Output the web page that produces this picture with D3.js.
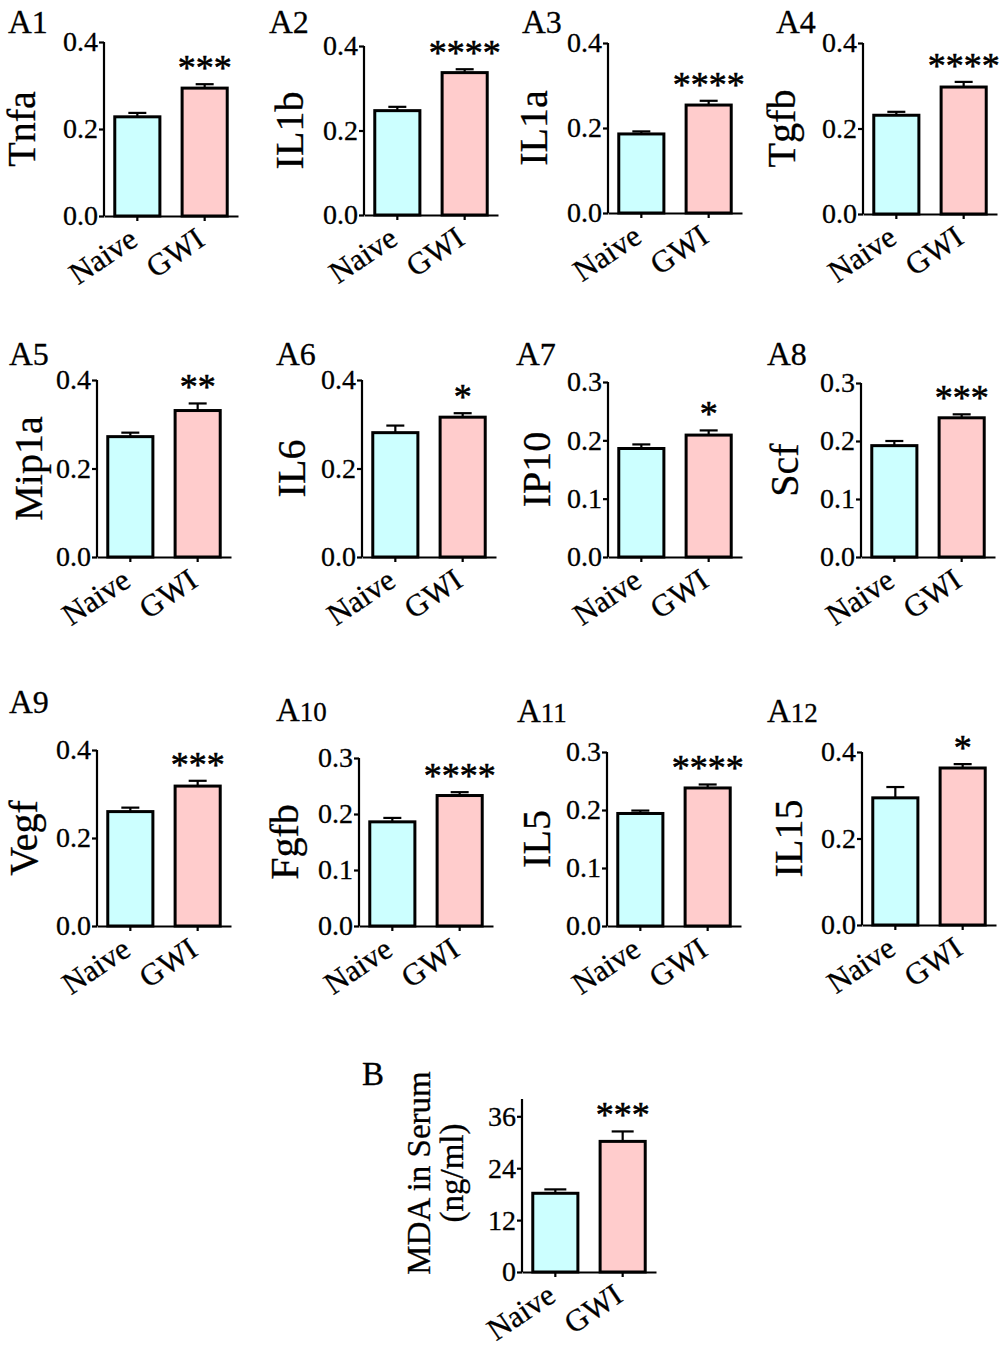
<!DOCTYPE html>
<html>
<head>
<meta charset="utf-8">
<script src="https://cdn.jsdelivr.net/npm/d3@7/dist/d3.min.js"></script>
<style>
  html, body { margin: 0; padding: 0; background: #fff; }
  svg { display: block; }
</style>
</head>
<body>
<script>
// ---------------- DATA ----------------
const categories = ["Naive", "GWI"];
const panelLabels = ["A1","A2","A3","A4","A5","A6","A7","A8","A9","A10","A11","A12","B"];
const yLabels = ["Tnfa","IL1b","IL1a","Tgfb","Mip1a","IL6","IP10","Scf","Vegf","Fgfb","IL5","IL15",["MDA in Serum","(ng/ml)"]];
const naiveMean = [0.228, 0.247, 0.186, 0.231, 0.272, 0.281, 0.186, 0.192, 0.260, 0.186, 0.194, 0.294, 18.2];
const naiveSem  = [0.009, 0.009, 0.006, 0.008, 0.009, 0.016, 0.007, 0.008, 0.009, 0.007, 0.005, 0.025, 0.9];
const gwiMean   = [0.294, 0.337, 0.254, 0.297, 0.331, 0.316, 0.209, 0.240, 0.318, 0.233, 0.238, 0.363, 30.2];
const gwiSem    = [0.009, 0.008, 0.010, 0.012, 0.016, 0.009, 0.008, 0.006, 0.012, 0.006, 0.006, 0.009, 2.3];
const stars     = ["***","****","****","****","**","*","*","***","***","****","****","*","***"];
const ticks04 = [0, 0.2, 0.4];
const ticks03 = [0, 0.1, 0.2, 0.3];
const ticksB  = [0, 12, 24, 36];
const yTickVals = [ticks04,ticks04,ticks04,ticks04,ticks04,ticks04,ticks03,ticks03,ticks04,ticks03,ticks03,ticks04,ticksB];
const yMax = [0.4,0.4,0.4,0.4,0.4,0.4,0.3,0.3,0.4,0.3,0.3,0.4,40];

// ---------------- LAYOUT (positions only) ----------------
const layout = [
  {ax:104, y0:216, yTop:42,  lx:[35],  tx:8,   ty:33},
  {ax:364, y0:215, yTop:46,  lx:[303], tx:269, ty:33},
  {ax:608, y0:213, yTop:43,  lx:[547], tx:522, ty:33},
  {ax:863, y0:214, yTop:43,  lx:[795], tx:776, ty:33},
  {ax:97,  y0:557, yTop:380, lx:[42],  tx:9,   ty:365},
  {ax:362, y0:557, yTop:380, lx:[305], tx:276, ty:365},
  {ax:608, y0:557, yTop:382, lx:[550], tx:516, ty:365},
  {ax:861, y0:557, yTop:383, lx:[798], tx:767, ty:365},
  {ax:97,  y0:926, yTop:750, lx:[37],  tx:9,   ty:713},
  {ax:359, y0:926, yTop:758, lx:[298], tx:276, ty:721},
  {ax:607, y0:926, yTop:752, lx:[550], tx:517, ty:722},
  {ax:862, y0:925, yTop:752, lx:[802], tx:767, ty:722},
  {ax:522, y0:1272, yTop:1099, lx:[430, 463], tx:362, ty:1085, lyc:1173}
];

const FONT = "'Liberation Serif', 'Times New Roman', serif";
const fills = {"Naive": "#ccffff", "GWI": "#ffcccc"};

const svg = d3.select("body").append("svg")
  .attr("width", 1000).attr("height", 1350)
  .style("background", "#fff");

panelLabels.forEach((lab, i) => {
  const L = layout[i];
  const g = svg.append("g");

  const x = d3.scaleBand().domain(categories)
    .range([L.ax, L.ax + 134]).paddingInner(0.33).paddingOuter(0.16);
  const y = d3.scaleLinear().domain([0, yMax[i]]).range([L.y0, L.yTop]);

  const data = [
    {c: "Naive", m: naiveMean[i], s: naiveSem[i]},
    {c: "GWI",   m: gwiMean[i],   s: gwiSem[i]}
  ];

  // error bars (upper)
  const capHalf = i === 12 ? 11 : 9;
  data.forEach(d => {
    const cx = x(d.c) + x.bandwidth() / 2;
    g.append("line").attr("x1", cx).attr("x2", cx)
      .attr("y1", y(d.m)).attr("y2", y(d.m + d.s))
      .attr("stroke", "#000").attr("stroke-width", 2.2);
    g.append("line").attr("x1", cx - capHalf).attr("x2", cx + capHalf)
      .attr("y1", y(d.m + d.s)).attr("y2", y(d.m + d.s))
      .attr("stroke", "#000").attr("stroke-width", 2.2);
  });

  // bars
  g.selectAll("rect.bar").data(data).enter().append("rect")
    .attr("class", "bar")
    .attr("x", d => x(d.c))
    .attr("y", d => y(d.m))
    .attr("width", x.bandwidth())
    .attr("height", d => y(0) - y(d.m))
    .attr("fill", d => fills[d.c])
    .attr("stroke", "#000").attr("stroke-width", 3);

  // axes
  const fmt = i === 12 ? d3.format("d") : d3.format(".1f");
  const yAxis = g.append("g").attr("transform", `translate(${L.ax},0)`)
    .call(d3.axisLeft(y).tickValues(yTickVals[i]).tickSize(5).tickSizeOuter(0).tickPadding(1).tickFormat(fmt));
  const xAxis = g.append("g").attr("transform", `translate(0,${L.y0})`)
    .call(d3.axisBottom(x).tickSize(5).tickSizeOuter(0));

  [yAxis, xAxis].forEach(a => {
    a.attr("font-family", FONT);
    a.select(".domain").attr("stroke", "#000").attr("stroke-width", 2.2);
    a.selectAll(".tick line").attr("stroke", "#000").attr("stroke-width", 2.2);
    a.selectAll(".tick text").attr("fill", "#000")
      .attr("stroke", "#000").attr("stroke-width", 0.3);
  });
  yAxis.select(".domain").attr("d", `M0,${y(0)}V${y(yMax[i])}`);
  yAxis.selectAll(".tick text").attr("font-size", 28);
  xAxis.selectAll(".tick text")
    .attr("font-size", 31)
    .attr("y", 0).attr("dy", 0).attr("x", 0)
    .attr("text-anchor", "end")
    .attr("transform", "translate(2,28) rotate(-34)");

  // stars
  const gw = data[1];
  g.append("text")
    .attr("x", x("GWI") + x.bandwidth() / 2)
    .attr("y", y(gw.m + gw.s) - 4)
    .attr("text-anchor", "middle")
    .attr("font-family", FONT).attr("font-size", 36)
    .attr("stroke", "#000").attr("stroke-width", 0.6)
    .text(stars[i]);

  // y label
  const lines = Array.isArray(yLabels[i]) ? yLabels[i] : [yLabels[i]];
  const cy = L.lyc !== undefined ? L.lyc : (L.y0 + L.yTop) / 2;
  lines.forEach((t, k) => {
    g.append("text")
      .attr("transform", `translate(${L.lx[k]},${cy}) rotate(-90)`)
      .attr("text-anchor", "middle")
      .attr("font-family", FONT)
      .attr("font-size", i === 12 ? 33 : 40)
      .attr("stroke", "#000").attr("stroke-width", 0.3)
      .text(t);
  });

  // panel title
  const tt = g.append("text").attr("x", L.tx).attr("y", L.ty)
    .attr("font-family", FONT).attr("font-size", 33)
    .attr("stroke", "#000").attr("stroke-width", 0.3);
  const letter = lab.slice(0, 1), digits = lab.slice(1);
  tt.append("tspan").text(letter);
  if (digits.length) {
    tt.append("tspan").attr("font-size", digits.length > 1 ? 27 : 32).text(digits);
  }
});
</script>
</body>
</html>
